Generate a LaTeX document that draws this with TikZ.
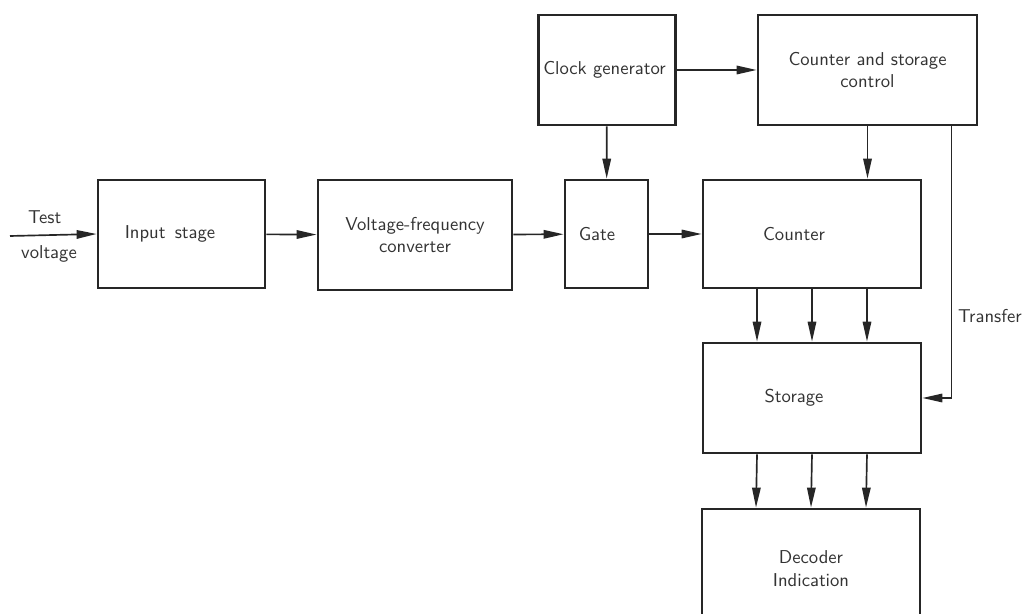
\documentclass[tikz,border=0pt]{standalone}
\usepackage{tikz}
\usetikzlibrary{arrows.meta, positioning, calc}

\tikzset{
    block/.style={draw=black!85, line width=1.6pt, font=\sffamily\fontsize{10.6}{13}\selectfont,
        text=black!80, align=center, inner sep=2pt},
    tag/.style={font=\sffamily\fontsize{10.6}{13}\selectfont, text=black!80},
    link/.style={draw=black!85, line width=0.95pt,
        -{Triangle[length=4mm, width=1.7mm]}}
}

\begin{document}
\begin{tikzpicture}[x=0.02cm, y=-0.02cm]
    \useasboundingbox (0,0) rectangle (1022,614);
    \clip (0,0) rectangle (1022,614);

    % Main signal chain
    \node[block, minimum width=3.34cm, minimum height=2.16cm] (input) at (181.5,234) {Input\enspace stage\hspace*{0.46cm}};
    \node[block, minimum width=3.88cm, minimum height=2.2cm] (vfc) at (415,235) {Voltage-frequency\\converter};
    \node[block, minimum width=1.66cm, minimum height=2.16cm] (gate) at (606.5,234) {Gate\hspace*{0.38cm}};
    \node[block, minimum width=4.36cm, minimum height=2.16cm] (counter) at (812,234) {Counter\hspace*{0.72cm}};

    % Clock and control
    \node[block, minimum width=2.74cm, minimum height=2.2cm] (clock) at (607,70) {Clock generator\hspace*{0.1cm}};
    \node[block, minimum width=4.38cm, minimum height=2.2cm] (ctrl) at (867.5,70) {Counter and storage\\control};

    % Storage and output
    \node[block, minimum width=4.36cm, minimum height=2.2cm] (storage) at (812,398) {Storage\hspace*{0.72cm}};
    \node[block, minimum width=4.36cm, minimum height=2.4cm] (decoder) at (811,569) {Decoder\\Indication};

    % Input
    \coordinate (tv) at (10,236);
    \draw[link] (tv) -- (input.west)
        node[pos=0.4, above=3pt, tag] {Test}
        node[pos=0.45, below=2pt, tag] {voltage};

    % Horizontal connections
    \draw[link] (input) -- (vfc);
    \draw[link] (vfc) -- (gate);
    \draw[link] (gate) -- (counter);
    \draw[link] (clock) -- (ctrl);
    \draw[link] (clock) -- (gate);
    \draw[link] (ctrl.south) -- (ctrl.south |- counter.north);

    % Transfer line
    \draw[link] ([xshift=-0.54cm]ctrl.south east) |- (storage.east)
        node[pos=0.35, right, tag] {Transfer};

    % Parallel outputs
    \foreach \dx in {-1.1,0,1.1} {
        \draw[link] ([xshift=\dx cm]counter.south) -- ([xshift=\dx cm]storage.north);
        \draw[link] ([xshift=\dx cm]storage.south) -- ([xshift=\dx cm]decoder.north);
    }
\end{tikzpicture}
\end{document}
